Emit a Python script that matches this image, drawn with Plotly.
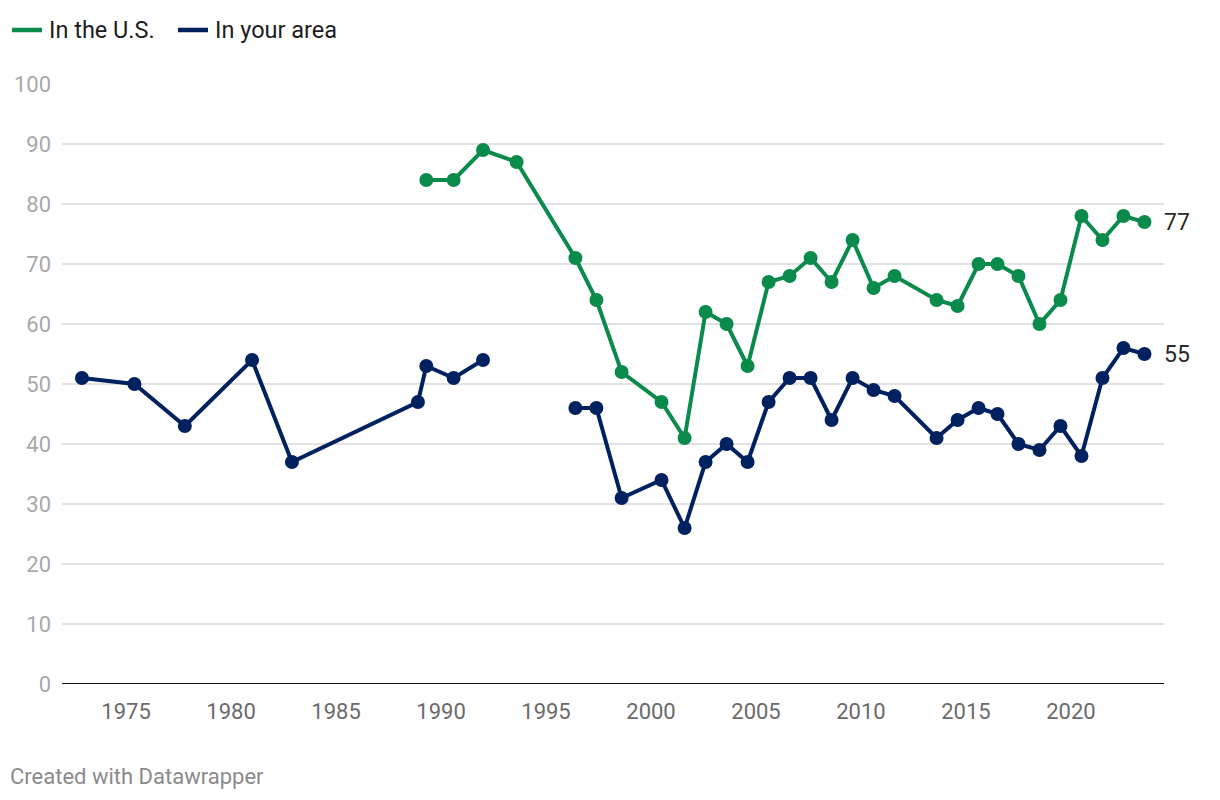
import plotly.graph_objects as go

years = [1972.9, 1975.4, 1977.8, 1981.0, 1982.9, 1988.9, 1989.3, 1990.6, 1992.0, 1993.6,
         1996.4, 1997.4, 1998.6, 2000.5, 2001.6, 2002.6, 2003.6, 2004.6, 2005.6, 2006.6,
         2007.6, 2008.6, 2009.6, 2010.6, 2011.6, 2013.6, 2014.6, 2015.6, 2016.5, 2017.5,
         2018.5, 2019.5, 2020.5, 2021.5, 2022.5, 2023.5]

in_us = [None, None, None, None, None, None, 84, 84, 89, 87,
         71, 64, 52, 47, 41, 62, 60, 53, 67, 68,
         71, 67, 74, 66, 68, 64, 63, 70, 70, 68,
         60, 64, 78, 74, 78, 77]

in_area = [51, 50, 43, 54, 37, 47, 53, 51, 54, None,
           46, 46, 31, 34, 26, 37, 40, 37, 47, 51,
           51, 44, 51, 49, 48, 41, 44, 46, 45, 40,
           39, 43, 38, 51, 56, 55]

series_names = ["In the U.S.", "In your area"]
colors = ["#0a8a4b", "#00215f"]
x_ticks = [1975, 1980, 1985, 1990, 1995, 2000, 2005, 2010, 2015, 2020]
y_ticks = [0, 10, 20, 30, 40, 50, 60, 70, 80, 90, 100]

FONT = "Roboto, 'Noto Sans', sans-serif"
W, H = 1220, 800
OFF = 8  # page offset of the figure (body margin)
# target plot area in page pixels
PL, PR, PT, PB = 62, 1164, 84, 684
L, T = PL - OFF, PT - OFF
R = W - (PR - OFF)
B = H - (PB - OFF)

fig = go.Figure()
for name, vals, col in [(series_names[1], in_area, colors[1]), (series_names[0], in_us, colors[0])]:
    fig.add_trace(go.Scatter(
        x=years, y=vals, name=name, mode="lines+markers",
        line=dict(color=col, width=4), marker=dict(color=col, size=14),
        connectgaps=False, showlegend=False, hoverinfo="x+y"))

# end labels
for vals in [in_us, in_area]:
    fig.add_annotation(x=years[-1], y=vals[-1], text=str(vals[-1]), showarrow=False,
                       xanchor="left", yanchor="middle", xshift=18,
                       font=dict(family=FONT, size=23, color="#2a2a2a"))

pw = PR - PL
ph = PB - PT
def px_x(px):
    return (px - PL) / pw
def px_y(py):
    return 1 - (py - PT) / ph

legend_items = [(series_names[0], colors[0], 12, 47), (series_names[1], colors[1], 178, 213)]
for name, col, lx, tx in legend_items:
    fig.add_shape(type="line", xref="paper", yref="paper",
                  x0=px_x(lx), x1=px_x(lx + 30), y0=px_y(30), y1=px_y(30),
                  line=dict(color=col, width=4.5))
    fig.add_annotation(xref="paper", yref="paper", x=px_x(tx), y=px_y(30), text=name,
                       showarrow=False, xanchor="left", yanchor="middle",
                       font=dict(family=FONT, size=23.5, color="#1d1d1d"))

fig.add_annotation(xref="paper", yref="paper", x=px_x(8), y=px_y(776),
                   text="Created with Datawrapper", showarrow=False,
                   xanchor="left", yanchor="middle",
                   font=dict(family=FONT, size=22, color="#8a8a8a"))

fig.update_layout(
    width=W, height=H, margin=dict(l=L, r=R, t=T, b=B, autoexpand=False),
    paper_bgcolor="white", plot_bgcolor="white",
    font=dict(family=FONT),
    xaxis=dict(range=[1971.95, 2024.43], tickvals=x_ticks, showgrid=False,
               zeroline=False, showline=False, ticks="", automargin=False,
               tickfont=dict(family=FONT, size=22, color="#6a6a6a"),
               ticklabelstandoff=12),
    yaxis=dict(range=[0, 100], tickvals=y_ticks, showgrid=True, gridcolor="#e2e2e2",
               gridwidth=1.5, zeroline=False, showline=False, ticks="", automargin=False,
               tickfont=dict(family=FONT, size=22, color="#a8a8a8"),
               ticklabelstandoff=10),
)
fig.add_hline(y=0, line=dict(color="#111111", width=2))

fig.write_html("out.html")
